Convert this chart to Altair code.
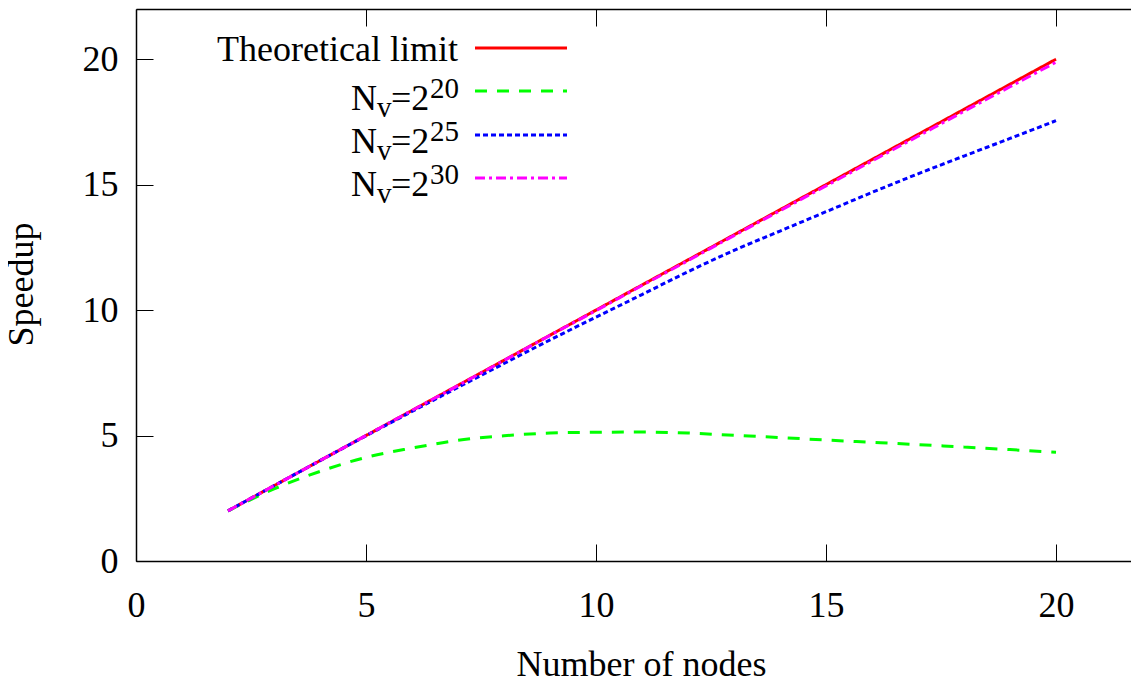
import altair as alt
import pandas as pd

# ---------------- data ----------------
nodes = list(range(2, 21))
theoretical = [float(n) for n in nodes]
nv20 = [2.00, 2.87, 3.57, 4.13, 4.50, 4.81, 4.99, 5.10, 5.13, 5.14,
        5.10, 5.01, 4.92, 4.82, 4.73, 4.64, 4.54, 4.44, 4.33]
nv25 = [2.00, 3.00, 4.00, 4.99, 5.96, 6.92, 7.87, 8.81, 9.72, 10.62,
        11.53, 12.38, 13.15, 13.92, 14.69, 15.43, 16.14, 16.84, 17.55]
nv30 = [2.00, 3.00, 4.00, 5.00, 6.00, 6.99, 7.99, 8.99, 9.98, 10.98,
        11.97, 12.97, 13.96, 14.95, 15.94, 16.93, 17.92, 18.90, 19.88]

series_names = ["Theoretical limit", "Nv=2^20", "Nv=2^25", "Nv=2^30"]
series_values = [theoretical, nv20, nv25, nv30]
series_colors = ["#ff0000", "#00ff00", "#0000ff", "#ff00ff"]
series_dashes = [[1, 0], [12, 10], [5, 3], [10, 4, 3, 4]]
legend_sups = ["20", "25", "30"]

x_ticks = [0, 5, 10, 15, 20]
y_ticks = [0, 5, 10, 15, 20]

FONT = "Liberation Serif"
FS = 36
SUB_FS = 29

W, H = 995, 552
xs = alt.Scale(domain=[0, 995 / 46], nice=False, zero=False)
ys = alt.Scale(domain=[0, 22], nice=False, zero=False)

frames = [pd.DataFrame({"x": nodes, "y": vals, "s": name})
          for name, vals in zip(series_names, series_values)]

common_axis = dict(grid=False, labelFont=FONT, titleFont=FONT,
                   labelFontSize=FS, titleFontSize=FS, labelColor="#000",
                   titleColor="#000", titleFontWeight="normal",
                   domainColor="#000", tickColor="#000", labelFlush=False,
                   labelOverlap=False)

x_main = alt.Axis(orient="bottom", values=x_ticks, ticks=False, tickSize=0,
                  domain=True, domainWidth=1.5, labelPadding=55,
                  labelBaseline="alphabetic", title="Number of nodes",
                  titleX=505, titleY=114, titleBaseline="alphabetic",
                  titleAnchor="start", titleAlign="center", **common_axis)
y_main = alt.Axis(orient="left", values=y_ticks, ticks=False, tickSize=0,
                  domain=True, domainWidth=1.5, labelPadding=18,
                  title="Speedup", titleX=-104, titleY=275,
                  titleBaseline="alphabetic", titleAlign="center",
                  titleAngle=270, **common_axis)

tick_opts = dict(ticks=True, tickSize=17, tickWidth=1, domain=False,
                 labels=False, title=None, grid=False, tickColor="#000")
x_bottom_ticks = alt.Axis(orient="bottom", values=x_ticks, offset=-17, **tick_opts)
x_top_ticks = alt.Axis(orient="top", values=x_ticks, offset=-17, **tick_opts)
y_left_ticks = alt.Axis(orient="left", values=y_ticks, offset=-17, **tick_opts)
x_top_domain = alt.Axis(orient="top", values=x_ticks, ticks=False, labels=False,
                        domain=True, domainWidth=1.5, domainColor="#000",
                        title=None, grid=False)

layers = []
# main series lines (first carries the main axes)
for i, df in enumerate(frames):
    layers.append(
        alt.Chart(df).mark_line(strokeWidth=3, color=series_colors[i],
                                strokeDash=series_dashes[i], interpolate="monotone")
        .encode(x=alt.X("x:Q", scale=xs, axis=x_main if i == 0 else None),
                y=alt.Y("y:Q", scale=ys, axis=y_main if i == 0 else None))
    )

# extra axes: inward ticks and top frame line
layers.append(alt.Chart(frames[0]).mark_line(opacity=0).encode(
    x=alt.X("x:Q", scale=xs, axis=x_bottom_ticks),
    y=alt.Y("y:Q", scale=ys, axis=y_left_ticks)))
layers.append(alt.Chart(frames[0]).mark_line(opacity=0).encode(
    x=alt.X("x:Q", scale=xs, axis=x_top_ticks),
    y=alt.Y("y:Q", scale=ys, axis=None)))
layers.append(alt.Chart(frames[0]).mark_line(opacity=0).encode(
    x=alt.X("x:Q", scale=xs, axis=x_top_domain),
    y=alt.Y("y:Q", scale=ys, axis=None)))

# ---------------- key (gnuplot style: text left, sample right) ----------------
one = pd.DataFrame({"k": [0]})
row_line_y = [39, 82, 126, 169]
row_base_y = [52, 101, 144, 187]
for i in range(4):
    layers.append(alt.Chart(one).mark_rule(
        strokeWidth=3, color=series_colors[i], strokeDash=series_dashes[i])
        .encode(x=alt.value(339), x2=alt.value(431), y=alt.value(row_line_y[i])))
    if i == 0:
        layers.append(alt.Chart(one).mark_text(
            text=series_names[0], font=FONT, fontSize=FS, align="right",
            baseline="alphabetic", color="#000")
            .encode(x=alt.value(322), y=alt.value(row_base_y[0])))
    else:
        b = row_base_y[i]
        parts = [("N", 215, b, FS), ("v", 241, b + 7, SUB_FS),
                 ("=2", 255, b, FS), (legend_sups[i - 1], 294, b - 12, SUB_FS)]
        for txt, px, py, fs in parts:
            layers.append(alt.Chart(one).mark_text(
                text=txt, font=FONT, fontSize=fs, align="left",
                baseline="alphabetic", color="#000")
                .encode(x=alt.value(px), y=alt.value(py)))

chart = (alt.layer(*layers)
         .resolve_axis(x="independent", y="independent")
         .properties(width=W, height=H,
                     autosize=alt.AutoSizeParams(type="none"),
                     padding={"left": 128, "top": 1, "right": 0, "bottom": 117})
         .configure_view(strokeWidth=0))

chart.save("out.html", embed_options={"renderer": "svg", "actions": False})
